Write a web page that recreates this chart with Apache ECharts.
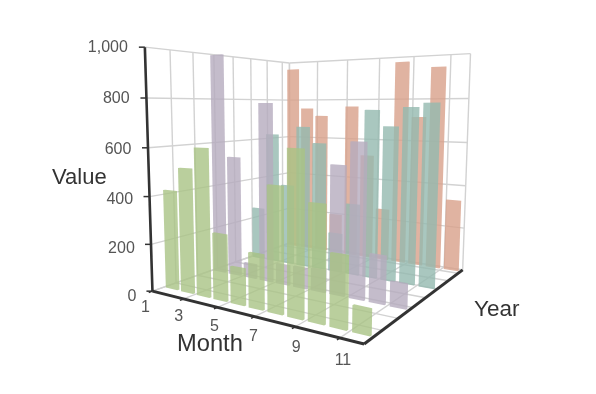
<!DOCTYPE html>
<html><head><meta charset="utf-8">
<style>html,body{margin:0;padding:0;background:#fff}#c{width:596px;height:394px}</style>
<script src="https://cdn.jsdelivr.net/npm/echarts@6/dist/echarts.min.js"></script></head>
<body><div id="c"></div>
<script>
const monthLabels = ['1','3','5','7','9','11'];
const valueTicks = [0,200,400,600,800,1000];
const monthCount = 11;
const yearBands = 15;
const rowPositions = [0.07,0.37,0.66,0.97];
const greenValues  = [420,518,604,270,148,216,482,620,432,265,95];
const purpleValues = [995,540,65,780,88,90,95,535,630,195,100];
const tealValues   = [255,630,385,670,595,180,325,750,680,762,780];
const orangeValues = [962,755,716,200,765,520,255,975,715,945,332];
const seriesColors = ['#a9c384','#b5abbe','#93b9af','#d8a08a'];

// camera calibration: box-space (x,y,z) -> screen
const calib = [
 [0,0,0,154,292],[1,0,0,365,344],[1,1,0,463,269],[0,1,0,290,243],
 [0,0,1,146,47],[1,1,1,471,54],[0,1,1,290,63],
 [2/11,0,0,182,299],[10/11,0,0,338,338],[2/11,1,1,318,62],[10/11,1,1,451,55],
 [0,1/7.5,1,170,49],[0,7/7.5,1,280,62]
];
function solveP(){
  const N=Array.from({length:11},()=>new Array(12).fill(0));
  const add=(r,b)=>{for(let i=0;i<11;i++){for(let j=0;j<11;j++)N[i][j]+=r[i]*r[j];N[i][11]+=r[i]*b;}};
  calib.forEach(([x,y,z,u,v])=>{
    add([x,y,z,1,0,0,0,0,-u*x,-u*y,-u*z],u);
    add([0,0,0,0,x,y,z,1,-v*x,-v*y,-v*z],v);
  });
  for(let i=0;i<11;i++){
    let p=i;for(let k=i+1;k<11;k++)if(Math.abs(N[k][i])>Math.abs(N[p][i]))p=k;
    [N[i],N[p]]=[N[p],N[i]];
    for(let k=0;k<11;k++){if(k===i)continue;const f=N[k][i]/N[i][i];for(let j=i;j<12;j++)N[k][j]-=f*N[i][j];}
  }
  return N.map((r,i)=>r[11]/r[i]);
}
const P=solveP();
function proj(x,y,z){
  const w=P[8]*x+P[9]*y+P[10]*z+1;
  return [(P[0]*x+P[1]*y+P[2]*z+P[3])/w,(P[4]*x+P[5]*y+P[6]*z+P[7])/w];
}
function hull(pts){
  const s=pts.slice().sort((a,b)=>a[0]-b[0]||a[1]-b[1]);
  const cr=(o,a,b)=>(a[0]-o[0])*(b[1]-o[1])-(a[1]-o[1])*(b[0]-o[0]);
  const lo=[],up=[];
  for(const p of s){while(lo.length>1&&cr(lo[lo.length-2],lo[lo.length-1],p)<=0)lo.pop();lo.push(p);}
  for(const p of s.slice().reverse()){while(up.length>1&&cr(up[up.length-2],up[up.length-1],p)<=0)up.pop();up.push(p);}
  return lo.slice(0,-1).concat(up.slice(0,-1));
}
const Z=v=>v/1000;
const barW=0.76/monthCount, barD=0.012;
function barSeries(values,rowIdx){
  const yc=rowPositions[rowIdx];
  return {type:'custom',coordinateSystem:'none',silent:true,animation:false,z:10+(3-rowIdx),
    data:values.map((v,i)=>[i,v]),
    renderItem(params,api){
      const xc=(api.value(0)+0.5)/monthCount, h=Z(api.value(1));
      const pts=[];
      for(const sx of[-1,1])for(const sy of[-1,1])for(const z of[0,h])
        pts.push(proj(xc+sx*barW/2,yc+sy*barD/2,z));
      return {type:'polygon',shape:{points:hull(pts)},style:{fill:seriesColors[rowIdx],opacity:0.8}};
    }};
}
// axis geometry built from tick counts
const gridLines=[], xTickPos=[], yTickPos=[];
for(let k=0;k<monthLabels.length;k++)xTickPos.push(2*k/monthCount);
xTickPos.push(1);
for(let k=0;k<=7;k++)yTickPos.push(2*k/yearBands);
yTickPos.push(1);
xTickPos.forEach(x=>{gridLines.push([x,0,0,x,1,0]);gridLines.push([x,1,0,x,1,1]);});
yTickPos.forEach(y=>{gridLines.push([0,y,0,1,y,0]);gridLines.push([0,y,0,0,y,1]);});
valueTicks.forEach(v=>{const z=Z(v);gridLines.push([0,0,z,0,1,z]);gridLines.push([0,1,z,1,1,z]);});
const axisLines=[[0,0,0,0,0,1,2.6],[0,0,0,1,0,0,3],[1,0,0,1,1,0,3]];
function lineSeries(data,color,defW,z){
  return {type:'custom',coordinateSystem:'none',silent:true,animation:false,z,data,
    renderItem(p,api){
      const a=proj(api.value(0),api.value(1),api.value(2)),b=proj(api.value(3),api.value(4),api.value(5));
      const w=api.value(6);
      return {type:'line',shape:{x1:a[0],y1:a[1],x2:b[0],y2:b[1]},style:{stroke:color,lineWidth:w>0?w:defW}};
    }};
}
const texts=[];
valueTicks.forEach(v=>{
  const p=proj(0,0,Z(v)),t=1-Z(v);
  texts.push({text:v.toLocaleString('en-US'),x:p[0]-17+t,y:p[1]+t*5,align:'right',size:16,color:'#555'});
});
monthLabels.forEach((l,k)=>{
  const p=proj(xTickPos[k],0,0),t=k/5;
  texts.push({text:l,x:p[0]-7+10*t,y:p[1]+16.5+6*t,align:'center',size:16,color:'#555'});
});
const axisNames=[['Value',52,178,22],['Month',177,344,23.7],['Year',474,310,22.5]];
axisNames.forEach(([text,x,y,size])=>texts.push({text,x,y,align:'left',size,color:'#333'}));

const tickSeries={type:'custom',coordinateSystem:'none',silent:true,animation:false,z:30,
  data:[...valueTicks.map(v=>[0,Z(v)]),...xTickPos.slice(0,-1).map(x=>[1,x])],
  renderItem(p,api){
    const kind=api.value(0),q=api.value(1);
    let a,b;
    if(kind===0){a=proj(0,0,q);b=[a[0]-6,a[1]];}
    else{a=proj(q,0,0);b=proj(q,-0.02,0);}
    return {type:'line',shape:{x1:a[0],y1:a[1],x2:b[0],y2:b[1]},style:{stroke:'#333',lineWidth:1.5}};
  }};
const textSeries={type:'custom',coordinateSystem:'none',silent:true,animation:false,z:40,
  data:texts.map((_,i)=>[i]),
  renderItem(p,api){
    const t=texts[api.value(0)];
    return {type:'text',style:{text:t.text,x:t.x,y:t.y,align:t.align,verticalAlign:'middle',
      fontSize:t.size,fontFamily:'"Liberation Sans",Arial,sans-serif',fill:t.color}};
  }};
const chart=echarts.init(document.getElementById('c'),null,{renderer:'canvas',width:596,height:394});
chart.setOption({backgroundColor:'#fff',animation:false,series:[
  lineSeries(gridLines.map(l=>[...l,0]),'#d2d2d2',1.4,1),
  barSeries(orangeValues,3),
  barSeries(tealValues,2),
  barSeries(purpleValues,1),
  barSeries(greenValues,0),
  lineSeries(axisLines,'#333',3,25),
  tickSeries,textSeries
]});
</script></body></html>
